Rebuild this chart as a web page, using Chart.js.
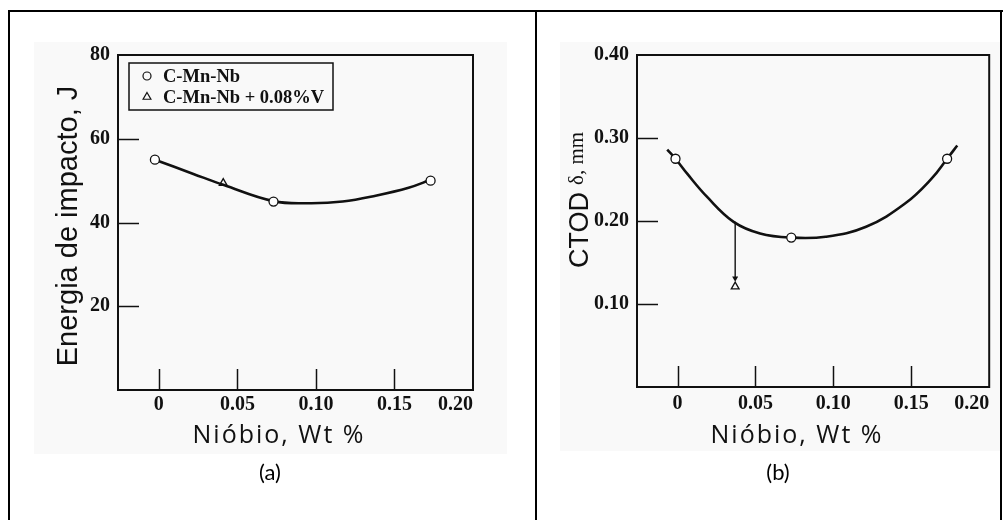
<!DOCTYPE html>
<html lang="pt">
<head>
<meta charset="UTF-8" />
<title>Energia de impacto e CTOD vs Nióbio</title>
<script src="https://cdn.jsdelivr.net/npm/chart.js"></script>
<style>
  html, body { margin: 0; padding: 0; background: #fff; }
  body { position: relative; width: 1003px; height: 520px; overflow: hidden; }
  .line { position: absolute; background: #000; }
  .img-bg { position: absolute; background: #f9f9f9; }
  .box { position: absolute; }
  .cap { position: absolute; width: 100px; text-align: center; font: 22px Lato, "Open Sans", sans-serif; color: #000; line-height: 24px; }
</style>
</head>
<body>
  <!-- table borders -->
  <div class="line" style="left:8px;top:10px;width:995px;height:2px"></div>
  <div class="line" style="left:8px;top:10px;width:2px;height:510px"></div>
  <div class="line" style="left:535px;top:10px;width:2px;height:510px"></div>
  <div class="line" style="left:1000px;top:10px;width:2px;height:510px"></div>

  <!-- scanned figure backgrounds -->
  <div class="img-bg" style="left:34px;top:42px;width:473px;height:412px"></div>
  <div class="img-bg" style="left:560px;top:42px;width:440px;height:409px"></div>

  <div class="box" style="left:20px;top:30px;width:500px;height:430px"><canvas id="chartA"></canvas></div>
  <div class="box" style="left:545px;top:30px;width:450px;height:430px"><canvas id="chartB"></canvas></div>

  <div class="cap" style="left:220px;top:460px">(a)</div>
  <div class="cap" style="left:728px;top:460px">(b)</div>

<script>
  // axis ticks
  const xMin = -0.026, xMax = 0.20;
  const xTicks = [0, 0.05, 0.10, 0.15, 0.20];
  const xTickLabels = ['0', '0.05', '0.10', '0.15', '0.20'];
  const yTicksA = [20, 40, 60, 80];
  const yTickLabelsA = ['20', '40', '60', '80'];
  const yTicksB = [0.10, 0.20, 0.30, 0.40];
  const yTickLabelsB = ['0.10', '0.20', '0.30', '0.40'];

  // (a) energia de impacto
  const impactCurveX = [-0.0025, 0.022, 0.041, 0.073, 0.096, 0.117, 0.138, 0.159, 0.173];
  const impactCurveY = [55.0, 51.6, 49.0, 45.1, 44.6, 45.0, 46.4, 48.3, 50.2];
  const impactNbX = [-0.0025, 0.073, 0.173];
  const impactNbY = [55, 45, 50];
  const impactVX = [0.041];
  const impactVY = [49.4];

  // (b) CTOD
  const ctodCurveX = [-0.0066, -0.0013, 0.0062, 0.019, 0.036, 0.053, 0.073, 0.095, 0.121, 0.146, 0.163, 0.173, 0.1795];
  const ctodCurveY = [0.286, 0.275, 0.257, 0.229, 0.199, 0.185, 0.180, 0.181, 0.193, 0.221, 0.251, 0.275, 0.291];
  const ctodNbX = [-0.0013, 0.073, 0.173];
  const ctodNbY = [0.275, 0.180, 0.275];
  const ctodVX = [0.037];
  const ctodVY = [0.121];
  const ctodArrowX = [0.037, 0.037];
  const ctodArrowY = [0.199, 0.131];

  const seriesNames = ['C-Mn-Nb', 'C-Mn-Nb + 0.08%V'];

  const pts = (xs, ys) => xs.map((x, i) => ({ x: x, y: ys[i] }));
  const serif = 'bold 18.5px "Liberation Serif", "Times New Roman", serif';

  // frame round the plot and the short inward ticks
  const frameAndTicks = {
    id: 'frameAndTicks',
    afterDraw(chart) {
      const { ctx, chartArea: a, scales } = chart;
      const len = 21;
      ctx.save();
      ctx.strokeStyle = '#111';
      ctx.lineWidth = 2;
      ctx.strokeRect(a.left, a.top, a.right - a.left, a.bottom - a.top);
      ctx.lineWidth = 1.5;
      scales.x.ticks.forEach(t => {
        if (t.value <= scales.x.min + 1e-9 || t.value >= scales.x.max - 1e-9) return;
        const px = Math.round(scales.x.getPixelForValue(t.value)) + 0.5;
        ctx.beginPath(); ctx.moveTo(px, a.bottom); ctx.lineTo(px, a.bottom - len); ctx.stroke();
      });
      scales.y.ticks.forEach(t => {
        if (t.value <= scales.y.min + 1e-9 || t.value >= scales.y.max - 1e-9) return;
        const py = Math.round(scales.y.getPixelForValue(t.value)) + 0.5;
        ctx.beginPath(); ctx.moveTo(a.left, py); ctx.lineTo(a.left + len, py); ctx.stroke();
      });
      ctx.restore();
    }
  };

  function makeText(items) {
    return {
      id: 'figText',
      afterDraw(chart) {
        const ctx = chart.ctx;
        items.forEach(it => {
          ctx.save();
          ctx.font = it.font;
          ctx.fillStyle = it.color || '#111';
          ctx.textAlign = it.align || 'center';
          ctx.textBaseline = 'alphabetic';
          if (it.spacing) ctx.letterSpacing = it.spacing;
          ctx.translate(it.x, it.y);
          if (it.rotate) ctx.rotate(it.rotate);
          ctx.fillText(it.text, 0, 0);
          ctx.restore();
        });
      }
    };
  }

  function drawMark(ctx, style, x, y, r) {
    ctx.beginPath();
    if (style === 'circle') {
      ctx.arc(x, y, r, 0, Math.PI * 2);
    } else {
      ctx.moveTo(x, y - r);
      ctx.lineTo(x + r * 0.87, y + r * 0.5);
      ctx.lineTo(x - r * 0.87, y + r * 0.5);
      ctx.closePath();
    }
    ctx.stroke();
  }

  // legend box inside the plot, top-left
  const insideLegend = {
    id: 'insideLegend',
    afterDraw(chart) {
      const { ctx, chartArea: a } = chart;
      const items = chart.data.datasets.filter(d => d.inLegend);
      const left = a.left + 11, top = a.top + 8, w = 204, h = 47;
      ctx.save();
      ctx.strokeStyle = '#111';
      ctx.lineWidth = 1.5;
      ctx.strokeRect(left, top, w, h);
      ctx.font = serif;
      ctx.fillStyle = '#111';
      ctx.textBaseline = 'middle';
      ctx.textAlign = 'left';
      items.forEach((d, i) => {
        const cy = top + 13 + i * 21;
        ctx.lineWidth = 1.2;
        drawMark(ctx, d.pointStyle, left + 18, cy, d.pointStyle === 'circle' ? 4 : 4.5);
        ctx.fillText(d.label, left + 34, cy + 1);
      });
      ctx.restore();
    }
  };

  function xScale(height, pad) {
    return {
      type: 'linear', min: xMin, max: xMax,
      grid: { display: false, drawTicks: false },
      border: { display: false },
      afterFit: s => { s.height = height; },
      afterBuildTicks: s => { s.ticks = [{ value: xMin }].concat(xTicks.map(v => ({ value: v }))); },
      ticks: {
        autoSkip: false, maxRotation: 0, align: 'inner', padding: pad,
        color: '#111', font: { family: '"Liberation Serif", serif', size: 20, weight: 'bold' },
        callback: (v, i) => (i === 0 ? '' : xTickLabels[i - 1])
      }
    };
  }

  function yScale(width, max, ticks, labels) {
    return {
      type: 'linear', min: 0, max: max,
      grid: { display: false, drawTicks: false },
      border: { display: false },
      afterFit: s => { s.width = width; },
      afterBuildTicks: s => { s.ticks = ticks.map(v => ({ value: v })); },
      ticks: {
        autoSkip: false, padding: 8,
        color: '#111', font: { family: '"Liberation Serif", serif', size: 20, weight: 'bold' },
        callback: (v, i) => labels[i]
      }
    };
  }

  const markerStyle = {
    type: 'scatter', pointRadius: 4.5, pointBorderWidth: 1.3,
    pointBorderColor: '#111', pointBackgroundColor: '#fff', showLine: false
  };
  const curveStyle = {
    type: 'line', showLine: true, borderColor: '#111', borderWidth: 2.6,
    pointRadius: 0, tension: 0.4, fill: false
  };

  new Chart(document.getElementById('chartA'), {
    type: 'scatter',
    data: {
      datasets: [
        Object.assign({}, markerStyle, { label: seriesNames[0], inLegend: true, pointStyle: 'circle', data: pts(impactNbX, impactNbY) }),
        Object.assign({}, markerStyle, { label: seriesNames[1], inLegend: true, pointStyle: 'triangle', pointRadius: 4.5, pointBackgroundColor: 'rgba(255,255,255,0)', data: pts(impactVX, impactVY) }),
        Object.assign({}, curveStyle, { label: 'ajuste', data: pts(impactCurveX, impactCurveY) })
      ]
    },
    options: {
      responsive: true, maintainAspectRatio: false, animation: false, events: [],
      layout: { padding: { left: 0, top: 25, right: 47, bottom: 0 } },
      plugins: { legend: { display: false }, tooltip: { enabled: false } },
      scales: { x: xScale(70, 3), y: yScale(98, 80, yTicksA, yTickLabelsA) }
    },
    plugins: [frameAndTicks, insideLegend, makeText([
      { text: 'Energia de impacto, J', x: 57, y: 196, rotate: -Math.PI / 2, font: '29px "Liberation Sans", Arial, sans-serif' },
      { text: 'Nióbio, Wt %', x: 259, y: 413, spacing: '2px', font: '25px "Open Sans", sans-serif' }
    ])]
  });

  new Chart(document.getElementById('chartB'), {
    type: 'scatter',
    data: {
      datasets: [
        Object.assign({}, markerStyle, { label: seriesNames[0], pointStyle: 'circle', data: pts(ctodNbX, ctodNbY) }),
        Object.assign({}, markerStyle, { label: seriesNames[1], pointStyle: 'triangle', pointBackgroundColor: 'rgba(255,255,255,0)', data: pts(ctodVX, ctodVY) }),
        { type: 'line', label: 'seta', showLine: true, borderColor: '#111', borderWidth: 1.4,
          pointStyle: 'triangle', pointRotation: 180, pointRadius: [0, 3.5], pointBorderWidth: 0,
          pointBackgroundColor: '#111', data: pts(ctodArrowX, ctodArrowY) },
        Object.assign({}, curveStyle, { label: 'ajuste', data: pts(ctodCurveX, ctodCurveY) })
      ]
    },
    options: {
      responsive: true, maintainAspectRatio: false, animation: false, events: [],
      layout: { padding: { left: 0, top: 25, right: 5, bottom: 0 } },
      plugins: { legend: { display: false }, tooltip: { enabled: false } },
      scales: { x: xScale(73, 5), y: yScale(92, 0.40, yTicksB, yTickLabelsB) }
    },
    plugins: [frameAndTicks, makeText([
      { text: 'CTOD', x: 43, y: 238, align: 'left', rotate: -Math.PI / 2, font: '27px "Liberation Sans", Arial, sans-serif' },
      { text: 'δ, mm', x: 38, y: 155, align: 'left', rotate: -Math.PI / 2, font: '21px "Liberation Serif", serif' },
      { text: 'Nióbio, Wt %', x: 252, y: 413, spacing: '2px', font: '25px "Open Sans", sans-serif' }
    ])]
  });
</script>
</body>
</html>
